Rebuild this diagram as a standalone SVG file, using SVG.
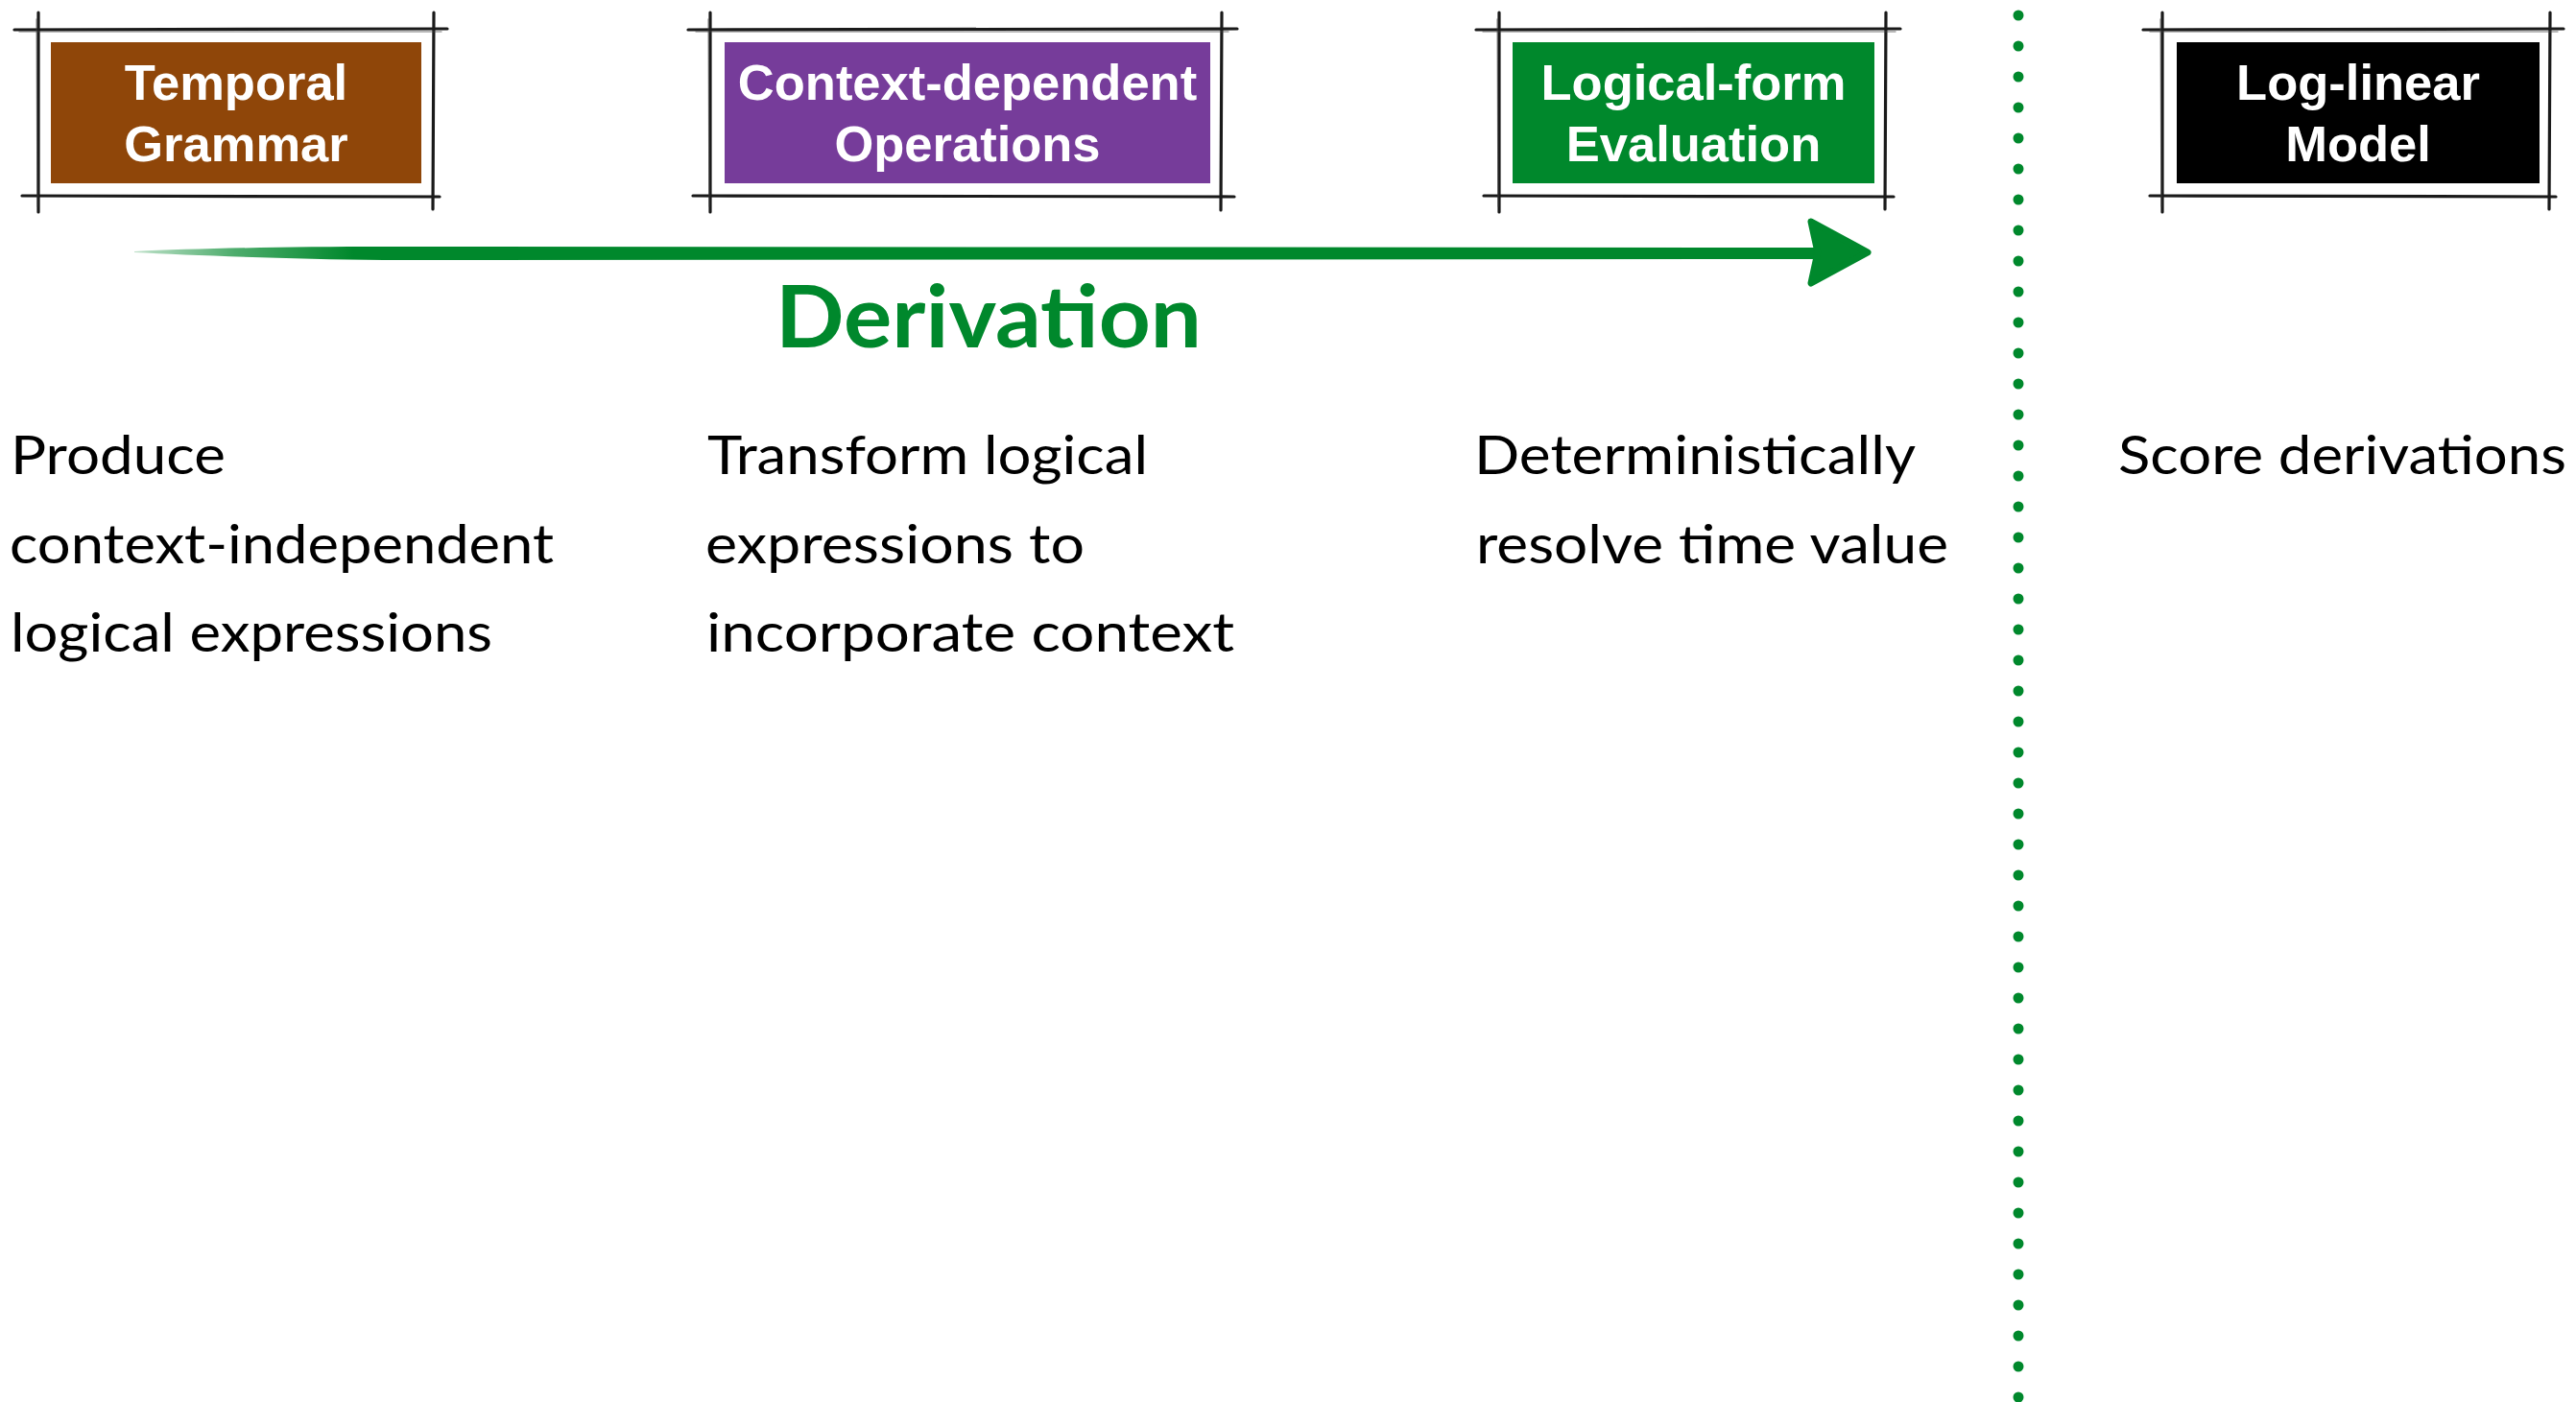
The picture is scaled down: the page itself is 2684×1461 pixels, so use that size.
<svg xmlns="http://www.w3.org/2000/svg" width="2684" height="1461" viewBox="0 0 2684 1461">
  <defs>
    <style>
      .frame { stroke: #1a1a1a; stroke-width: 3.2; stroke-linecap: round; fill: none; }
      .frame2 { stroke: #444; stroke-width: 1.4; stroke-linecap: round; fill: none; opacity: 0.5; }
      .label { font-family: "Liberation Sans", Arial, sans-serif; font-weight: bold; font-size: 52.5px; fill: #ffffff; text-anchor: middle; }
      .desc { font-family: Lato, "Open Sans", sans-serif; font-size: 57px; fill: #000000; }
      .title { font-family: Lato, "Open Sans", sans-serif; font-weight: bold; font-size: 90px; fill: #00882C; }
    </style>
    <linearGradient id="brush" x1="140" y1="0" x2="1894" y2="0" gradientUnits="userSpaceOnUse">
      <stop offset="0" stop-color="#00882C" stop-opacity="0.25"/>
      <stop offset="0.06" stop-color="#00882C" stop-opacity="0.7"/>
      <stop offset="0.13" stop-color="#00882C" stop-opacity="1"/>
      <stop offset="1" stop-color="#00882C" stop-opacity="1"/>
    </linearGradient>
  </defs>
  <rect x="0" y="0" width="2684" height="1461" fill="#ffffff"/>

  <g id="node-temporal-grammar">
    <line class="frame" x1="15" y1="31" x2="466" y2="30"/>
    <line class="frame" x1="23" y1="204" x2="458" y2="205"/>
    <line class="frame" x1="40" y1="13" x2="40" y2="221"/>
    <line class="frame" x1="452" y1="13" x2="451" y2="218"/>
    <line class="frame2" x1="20" y1="33" x2="460" y2="33"/>
    <line class="frame2" x1="38" y1="20" x2="39" y2="215"/>
    <rect x="53" y="44" width="386" height="147" fill="#8F4609"/>
    <text class="label" x="246" y="104">Temporal</text>
    <text class="label" x="246" y="168">Grammar</text>
  </g>

  <g id="node-context-dependent-operations">
    <line class="frame" x1="717" y1="31" x2="1289" y2="30"/>
    <line class="frame" x1="722" y1="204" x2="1286" y2="205"/>
    <line class="frame" x1="740" y1="13" x2="740" y2="221"/>
    <line class="frame" x1="1273" y1="13" x2="1272" y2="219"/>
    <line class="frame2" x1="725" y1="33" x2="1280" y2="33"/>
    <line class="frame2" x1="738" y1="20" x2="739" y2="215"/>
    <rect x="755" y="44" width="506" height="147" fill="#763C9A"/>
    <text class="label" x="1008" y="104">Context-dependent</text>
    <text class="label" x="1008" y="168">Operations</text>
  </g>

  <g id="node-logical-form-evaluation">
    <line class="frame" x1="1538" y1="31" x2="1980" y2="30"/>
    <line class="frame" x1="1546" y1="204" x2="1973" y2="205"/>
    <line class="frame" x1="1562" y1="13" x2="1562" y2="221"/>
    <line class="frame" x1="1965" y1="13" x2="1964" y2="218"/>
    <line class="frame2" x1="1545" y1="33" x2="1975" y2="33"/>
    <line class="frame2" x1="1560" y1="20" x2="1561" y2="215"/>
    <rect x="1576" y="44" width="377" height="147" fill="#00882C"/>
    <text class="label" x="1764.5" y="104">Logical-form</text>
    <text class="label" x="1764.5" y="168">Evaluation</text>
  </g>

  <g id="node-log-linear-model">
    <line class="frame" x1="2233" y1="31" x2="2671" y2="30"/>
    <line class="frame" x1="2240" y1="204" x2="2663" y2="205"/>
    <line class="frame" x1="2253" y1="13" x2="2253" y2="221"/>
    <line class="frame" x1="2657" y1="13" x2="2656" y2="218"/>
    <line class="frame2" x1="2240" y1="33" x2="2665" y2="33"/>
    <line class="frame2" x1="2251" y1="20" x2="2252" y2="215"/>
    <rect x="2268" y="44" width="378" height="147" fill="#000000"/>
    <text class="label" x="2457" y="104">Log-linear</text>
    <text class="label" x="2457" y="168">Model</text>
  </g>

  <g id="connectors">
    <g id="derivation-arrow">
      <path d="M140,262 C200,259 300,257 400,257 L1895,258 L1895,270 L400,271 C300,270 200,266 140,263 Z" fill="url(#brush)"/>
      <path d="M1887,231 L1946,263 L1887,295 L1894,263 Z" fill="#00882C" stroke="#00882C" stroke-width="7" stroke-linejoin="round"/>
    </g>
  </g>

  <g id="label-derivation">
    <text class="title" x="808" y="362" textLength="444" lengthAdjust="spacingAndGlyphs">Derivation</text>
  </g>

  <g id="separator">
    <line x1="2103" y1="16" x2="2103" y2="1461" stroke="#00882C" stroke-width="11" stroke-linecap="round" stroke-dasharray="0 32"/>
  </g>

  <g id="desc-temporal-grammar">
    <text class="desc" x="11" y="494" textLength="224" lengthAdjust="spacingAndGlyphs">Produce</text>
    <text class="desc" x="10" y="587" textLength="567" lengthAdjust="spacingAndGlyphs">context-independent</text>
    <text class="desc" x="11" y="679" textLength="502" lengthAdjust="spacingAndGlyphs">logical expressions</text>
  </g>

  <g id="desc-context-dependent-operations">
    <text class="desc" x="737" y="494" textLength="459" lengthAdjust="spacingAndGlyphs">Transform logical</text>
    <text class="desc" x="735" y="587" textLength="395" lengthAdjust="spacingAndGlyphs">expressions to</text>
    <text class="desc" x="736" y="679" textLength="550" lengthAdjust="spacingAndGlyphs">incorporate context</text>
  </g>

  <g id="desc-logical-form-evaluation">
    <text class="desc" x="1536" y="494" textLength="460" lengthAdjust="spacingAndGlyphs">Deterministically</text>
    <text class="desc" x="1538" y="587" textLength="492" lengthAdjust="spacingAndGlyphs">resolve time value</text>
  </g>

  <g id="desc-log-linear-model">
    <text class="desc" x="2207" y="494" textLength="467" lengthAdjust="spacingAndGlyphs">Score derivations</text>
  </g>
</svg>
